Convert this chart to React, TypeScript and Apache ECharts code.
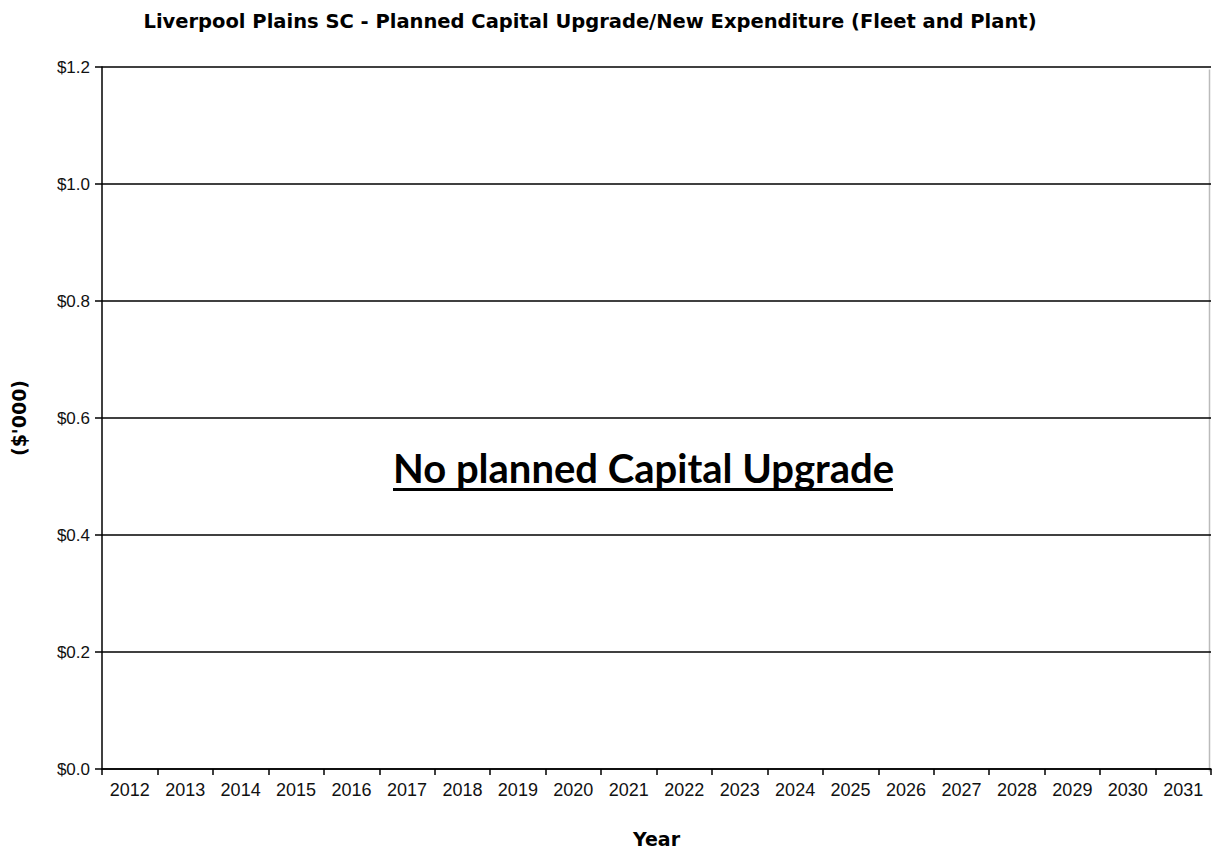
import React, { useEffect, useRef } from "react";
import * as echarts from "echarts";

const years = ["2012","2013","2014","2015","2016","2017","2018","2019","2020","2021","2022","2023","2024","2025","2026","2027","2028","2029","2030","2031"];
const expenditure = [0,0,0,0,0,0,0,0,0,0,0,0,0,0,0,0,0,0,0,0];
const titleText = "Liverpool Plains SC - Planned Capital Upgrade/New Expenditure (Fleet and Plant)";
const noteText = "No planned Capital Upgrade";

export default function App() {
  const ref = useRef<HTMLDivElement>(null);
  useEffect(() => {
    const chart = echarts.init(ref.current!, null, { renderer: "svg" });
    chart.setOption({
      animation: false,
      backgroundColor: "#ffffff",
      title: {
        text: titleText,
        left: 585,
        textAlign: "center",
        top: 6,
        textStyle: { fontFamily: "DejaVu Sans", fontWeight: "bold", fontSize: 19.5, color: "#000" },
      },
      grid: { left: 102, right: 1, top: 67, bottom: 79, containLabel: false, outerBoundsMode: "none" },
      xAxis: {
        type: "category",
        data: years,
        name: "Year",
        nameLocation: "middle",
        nameGap: 60,
        nameTextStyle: { fontFamily: "DejaVu Sans", fontWeight: "bold", fontSize: 19, color: "#000" },
        axisLine: { show: true, lineStyle: { color: "#000", width: 1.5 } },
        axisTick: { show: true, length: 6, lineStyle: { color: "#000", width: 1.5 } },
        axisLabel: { fontFamily: "Liberation Sans", fontSize: 18, color: "#111", margin: 12 },
        splitLine: { show: false },
      },
      yAxis: {
        type: "value",
        min: 0,
        max: 1.2,
        interval: 0.2,
        name: "($'000)",
        nameLocation: "middle",
        nameGap: 74,
        nameRotate: 90,
        nameTextStyle: { fontFamily: "DejaVu Sans", fontWeight: "bold", fontSize: 19, color: "#000" },
        axisLine: { show: true, lineStyle: { color: "#000", width: 1.5 } },
        axisTick: { show: true, length: 7, lineStyle: { color: "#000", width: 1.5 } },
        axisLabel: {
          fontFamily: "Liberation Sans",
          fontSize: 17,
          color: "#111",
          margin: 12,
          formatter: (v: number) => "$" + v.toFixed(1),
        },
        splitLine: { show: true, lineStyle: { color: "#000", width: 1.5 } },
      },
      graphic: [
        { type: "line", right: 0, top: 67, shape: { x1: 0, y1: 0, x2: 0, y2: 702 }, style: { stroke: "#bbb", lineWidth: 1.5 } },
        {
          type: "text",
          left: 393,
          top: 448,
          style: { text: noteText, fontFamily: "Lato", fontWeight: "bold", fontSize: 40, fill: "#000" },
        },
        { type: "rect", left: 393, top: 488, shape: { width: 500, height: 3 }, style: { fill: "#000" } },
      ],
      series: [
        { type: "bar", data: expenditure, itemStyle: { color: "#4472c4" } },
      ],
    });
    return () => chart.dispose();
  }, []);
  return <div ref={ref} style={{ position: "fixed", left: 0, top: 0, width: 1212, height: 848 }} />;
}
